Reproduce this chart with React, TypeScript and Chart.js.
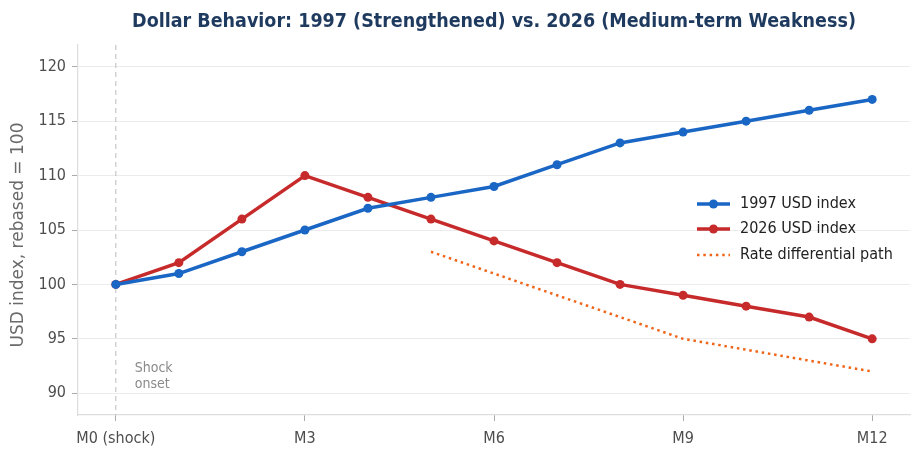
import React, { useEffect, useRef } from "react";
import { Chart, registerables } from "chart.js";

Chart.register(...registerables);

const months = [0, 1, 2, 3, 4, 5, 6, 7, 8, 9, 10, 11, 12];
const usd1997 = [100, 101, 103, 105, 107, 108, 109, 111, 113, 114, 115, 116, 117];
const usd2026 = [100, 102, 106, 110, 108, 106, 104, 102, 100, 99, 98, 97, 95];
const rateMonths = [5, 6, 7, 8, 9, 10, 11, 12];
const rateDiff = [103, 101, 99, 97, 95, 94, 93, 92];
const xTickValues = [0, 3, 6, 9, 12];
const xTickLabels = ["M0 (shock)", "M3", "M6", "M9", "M12"];
const yTickValues = [90, 95, 100, 105, 110, 115, 120];

const TITLE = "Dollar Behavior: 1997 (Strengthened) vs. 2026 (Medium-term Weakness)";
const BLUE = "#1a66c4";
const RED = "#c62a2a";
const ORANGE = "#f06418";
const FONT = "'DejaVu Sans', sans-serif";
const CFONT = "'DejaVu Sans Condensed', 'DejaVu Sans', sans-serif";

const overlay = {
  id: "overlay",
  beforeDatasetsDraw(chart: any) {
    const { ctx, chartArea, scales } = chart;
    const x0 = scales.x.getPixelForValue(0);
    ctx.save();
    ctx.strokeStyle = "#bdbdbd";
    ctx.lineWidth = 1;
    ctx.setLineDash([5, 4]);
    ctx.beginPath();
    ctx.moveTo(x0, chartArea.top);
    ctx.lineTo(x0, chartArea.bottom);
    ctx.stroke();
    ctx.setLineDash([]);
    ctx.fillStyle = "#8a8a8a";
    ctx.font = `14px ${CFONT}`;
    ctx.textAlign = "left";
    ctx.textBaseline = "middle";
    const tx = scales.x.getPixelForValue(0.3);
    ctx.fillText("Shock", tx, scales.y.getPixelForValue(92.3));
    ctx.fillText("onset", tx, scales.y.getPixelForValue(90.8));
    ctx.restore();
  },
  afterDraw(chart: any) {
    const { ctx, chartArea } = chart;
    ctx.save();
    // title
    ctx.fillStyle = "#1f3a5f";
    ctx.font = `bold 19.5px ${CFONT}`;
    ctx.textAlign = "center";
    ctx.textBaseline = "middle";
    ctx.fillText(TITLE, (chartArea.left + chartArea.right) / 2, 22);
    // y label
    ctx.save();
    ctx.translate(19, 235);
    ctx.rotate(-Math.PI / 2);
    ctx.fillStyle = "#6a6a6a";
    ctx.font = `17px ${FONT}`;
    ctx.fillText("USD index, rebased = 100", 0, 0);
    ctx.restore();
    // legend
    const items = [
      { label: "1997 USD index", color: BLUE, dotted: false, y: 204 },
      { label: "2026 USD index", color: RED, dotted: false, y: 229 },
      { label: "Rate differential path", color: ORANGE, dotted: true, y: 255 },
    ];
    for (const it of items) {
      ctx.strokeStyle = it.color;
      if (it.dotted) {
        ctx.lineWidth = 2.5;
        ctx.setLineDash([2.5, 3.8]);
      } else {
        ctx.lineWidth = 3.5;
        ctx.setLineDash([]);
      }
      ctx.beginPath();
      ctx.moveTo(697, it.y);
      ctx.lineTo(730, it.y);
      ctx.stroke();
      ctx.setLineDash([]);
      if (!it.dotted) {
        ctx.fillStyle = it.color;
        ctx.beginPath();
        ctx.arc(713.5, it.y, 4.5, 0, Math.PI * 2);
        ctx.fill();
      }
      ctx.fillStyle = "#222222";
      ctx.font = `16px ${CFONT}`;
      ctx.textAlign = "left";
      ctx.textBaseline = "middle";
      ctx.fillText(it.label, 740, it.y);
    }
    ctx.restore();
  },
};

export default function App() {
  const ref = useRef<HTMLCanvasElement | null>(null);
  useEffect(() => {
    if (!ref.current) return;
    const chart = new Chart(ref.current, {
      type: "line",
      data: {
        datasets: [
          {
            label: "1997 USD index",
            data: months.map((m, i) => ({ x: m, y: usd1997[i] })),
            borderColor: BLUE,
            backgroundColor: BLUE,
            borderWidth: 3.5,
            pointRadius: 4.5,
            pointBorderWidth: 0,
            tension: 0,
          },
          {
            label: "2026 USD index",
            data: months.map((m, i) => ({ x: m, y: usd2026[i] })),
            borderColor: RED,
            backgroundColor: RED,
            borderWidth: 3.5,
            pointRadius: 4.5,
            pointBorderWidth: 0,
            tension: 0,
          },
          {
            label: "Rate differential path",
            data: rateMonths.map((m, i) => ({ x: m, y: rateDiff[i] })),
            borderColor: ORANGE,
            backgroundColor: ORANGE,
            borderWidth: 2.5,
            borderDash: [2.5, 3.8],
            pointRadius: 0,
            tension: 0,
          },
        ],
      },
      options: {
        animation: false,
        responsive: false,
        events: [],
        layout: { padding: { top: 45, right: 14, left: 0, bottom: 0 } },
        plugins: { legend: { display: false }, title: { display: false }, tooltip: { enabled: false } },
        scales: {
          x: {
            type: "linear",
            min: -0.6,
            max: 12.6,
            afterBuildTicks: (s: any) => {
              s.ticks = xTickValues.map((v) => ({ value: v }));
            },
            afterFit: (s: any) => {
              s.height = 49;
            },
            ticks: {
              autoSkip: false,
              maxRotation: 0,
              color: "#4d4d4d",
              font: { family: CFONT, size: 16 },
              padding: 8,
              callback: (v: any) => {
                const idx = xTickValues.indexOf(Number(v));
                return idx >= 0 ? xTickLabels[idx] : "";
              },
            },
            grid: { drawOnChartArea: false, drawTicks: true, tickLength: 6, tickColor: "#aaaaaa", tickWidth: 1 },
            border: { color: "#dddddd", width: 1.2 },
          },
          y: {
            min: 88,
            max: 122,
            afterBuildTicks: (s: any) => {
              s.ticks = yTickValues.map((v) => ({ value: v }));
            },
            afterFit: (s: any) => {
              s.width = 78;
            },
            ticks: {
              color: "#4d4d4d",
              font: { family: CFONT, size: 16 },
              padding: 6,
            },
            grid: { color: "#ececec", lineWidth: 1, drawTicks: true, tickLength: 6, tickColor: "#aaaaaa" },
            border: { color: "#dddddd", width: 1.2 },
          },
        },
      },
      plugins: [overlay],
    } as any);
    return () => chart.destroy();
  }, []);
  return (
    <div style={{ position: "fixed", left: 0, top: 0, width: 924, height: 464, background: "#fff" }}>
      <canvas ref={ref} width={924} height={464} style={{ width: 924, height: 464, display: "block" }} />
    </div>
  );
}
